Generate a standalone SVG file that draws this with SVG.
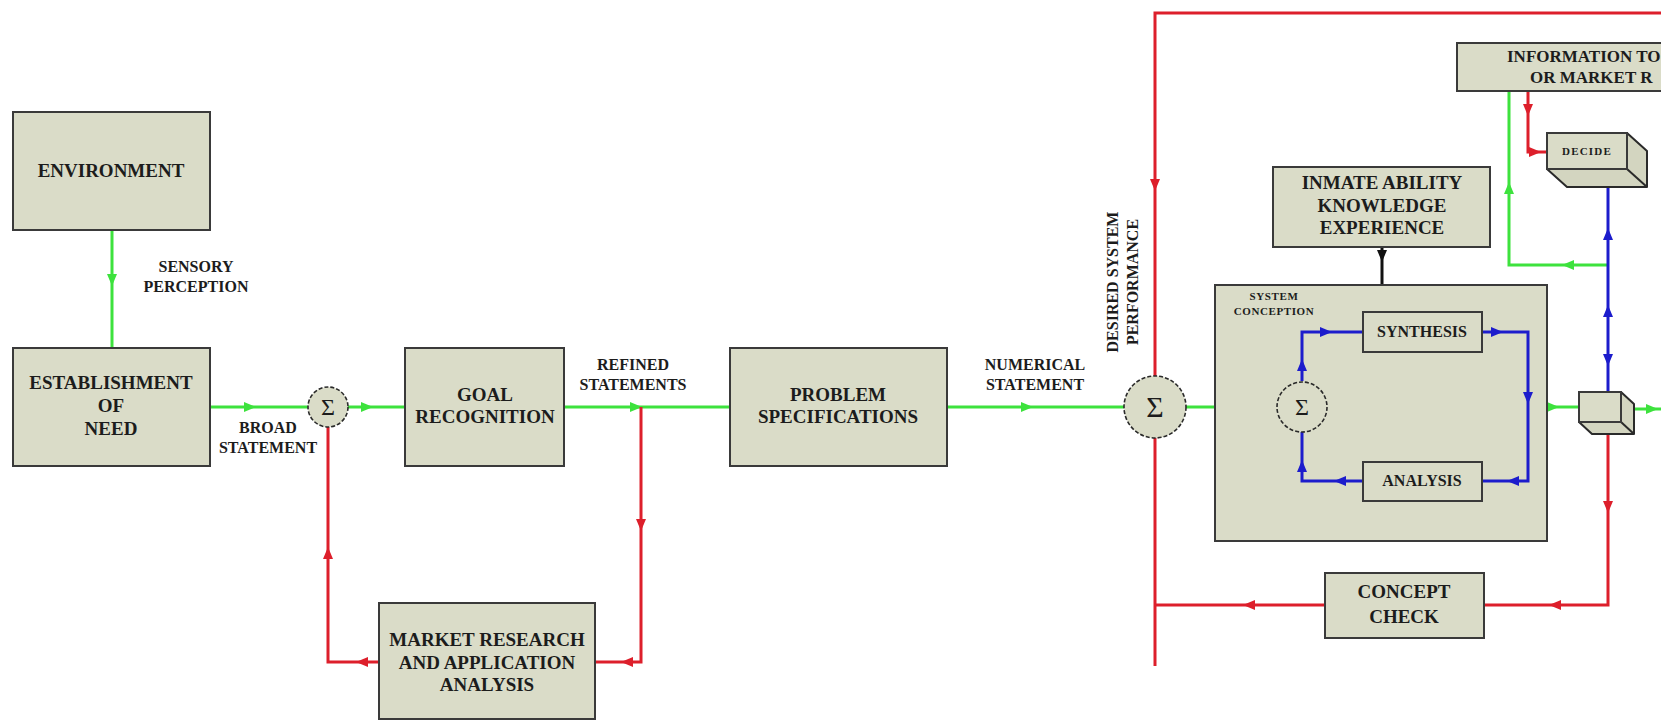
<svg xmlns="http://www.w3.org/2000/svg" xmlns:xlink="http://www.w3.org/1999/xlink" width="1661" height="721" viewBox="0 0 1661 721">
  <style>
    .box { fill: #dadcc8; stroke: #3a3a3a; stroke-width: 2; }
    .face { fill: #d3d5c0; stroke: #2a2a2a; stroke-width: 2; stroke-linejoin: round; }
    .sum { fill: #dadcc8; stroke: #2a2a2a; stroke-width: 1.6; stroke-dasharray: 4 2; }
    .t { font-family: "Liberation Serif", "Times New Roman", serif; font-weight: bold; fill: #1c1c1c; text-anchor: middle; }
    .big { font-size: 19px; }
    .lbl { font-size: 16px; }
    .mid { font-size: 16px; }
    .sm { font-size: 11px; }
    .sig { font-family: "Liberation Serif", "DejaVu Serif", serif; fill: #1c1c1c; text-anchor: middle; }
    .g { stroke: #3de23d; stroke-width: 3; fill: none; }
    .r { stroke: #dd1f2b; stroke-width: 3; fill: none; }
    .b { stroke: #1c1ccc; stroke-width: 3; fill: none; }
    .k { stroke: #111111; stroke-width: 3; fill: none; }
    .ga { fill: #3de23d; }
    .ra { fill: #dd1f2b; }
    .ba { fill: #1c1ccc; }
    .ka { fill: #111111; }
  </style>
  <defs>
    <!-- arrowhead pointing along +x, placed on a line with translate/rotate -->
    <path id="ah" d="M6,0 L-6,-5 L-6,5 Z"/>
  </defs>

  <rect width="1661" height="721" fill="#ffffff"/>

  <!-- connectors -->
  <g id="connectors">
    <!-- green forward path -->
    <line class="g" x1="112" y1="230" x2="112" y2="348"/>
    <line class="g" x1="210" y1="407" x2="308" y2="407"/>
    <line class="g" x1="348" y1="407" x2="405" y2="407"/>
    <line class="g" x1="564" y1="407" x2="730" y2="407"/>
    <line class="g" x1="947" y1="407" x2="1124" y2="407"/>
    <line class="g" x1="1186" y1="407" x2="1277" y2="407"/>
    <line class="g" x1="1547" y1="407" x2="1579" y2="407"/>
    <line class="g" x1="1634" y1="409" x2="1661" y2="409"/>
    <polyline class="g" points="1608,265 1509,265 1509,91"/>
    <use href="#ah" class="ga" transform="translate(112,280) rotate(90)"/>
    <use href="#ah" class="ga" transform="translate(250,407)"/>
    <use href="#ah" class="ga" transform="translate(367,407)"/>
    <use href="#ah" class="ga" transform="translate(636,407)"/>
    <use href="#ah" class="ga" transform="translate(1027,407)"/>
    <use href="#ah" class="ga" transform="translate(1220,407)"/>
    <use href="#ah" class="ga" transform="translate(1553,407)"/>
    <use href="#ah" class="ga" transform="translate(1652,409)"/>
    <use href="#ah" class="ga" transform="translate(1568,265) rotate(180)"/>
    <use href="#ah" class="ga" transform="translate(1509,188) rotate(-90)"/>

    <!-- red market research loop -->
    <polyline class="r" points="641,407 641,662 595,662"/>
    <polyline class="r" points="379,662 328,662 328,427"/>
    <use href="#ah" class="ra" transform="translate(641,525) rotate(90)"/>
    <use href="#ah" class="ra" transform="translate(627,662) rotate(180)"/>
    <use href="#ah" class="ra" transform="translate(362,662) rotate(180)"/>
    <use href="#ah" class="ra" transform="translate(328,553) rotate(-90)"/>

    <!-- red outer feedback loop -->
    <polyline class="r" points="1661,13 1155,13 1155,376"/>
    <line class="r" x1="1155" y1="438" x2="1155" y2="666"/>
    <polyline class="r" points="1608,434 1608,605 1484,605"/>
    <line class="r" x1="1325" y1="605" x2="1155" y2="605"/>
    <polyline class="r" points="1528,91 1528,152 1547,152"/>
    <use href="#ah" class="ra" transform="translate(1155,185) rotate(90)"/>
    <use href="#ah" class="ra" transform="translate(1608,507) rotate(90)"/>
    <use href="#ah" class="ra" transform="translate(1555,605) rotate(180)"/>
    <use href="#ah" class="ra" transform="translate(1249,605) rotate(180)"/>
    <use href="#ah" class="ra" transform="translate(1528,110) rotate(90)"/>
    <use href="#ah" class="ra" transform="translate(1535,152)"/>

    <!-- blue decision line -->
    <line class="b" x1="1608" y1="188" x2="1608" y2="393"/>
    <use href="#ah" class="ba" transform="translate(1608,234) rotate(-90)"/>
    <use href="#ah" class="ba" transform="translate(1608,311) rotate(-90)"/>
    <use href="#ah" class="ba" transform="translate(1608,360) rotate(90)"/>

    <!-- knowledge input -->
    <line class="k" x1="1382" y1="247" x2="1382" y2="285"/>
    <use href="#ah" class="ka" transform="translate(1382,256) rotate(90)"/>
  </g>

  <!-- outer nodes -->
  <g id="environment">
    <rect class="box" x="13" y="112" width="197" height="118"/>
    <text class="t big" x="111" y="177">ENVIRONMENT</text>
  </g>
  <g id="establishment">
    <rect class="box" x="13" y="348" width="197" height="118"/>
    <text class="t big" x="111" y="389">ESTABLISHMENT</text>
    <text class="t big" x="111" y="412">OF</text>
    <text class="t big" x="111" y="435">NEED</text>
  </g>
  <g id="sum-1">
    <circle class="sum" cx="328" cy="407" r="20"/>
    <text class="sig" x="328" y="415" style="font-size:24px">Σ</text>
  </g>
  <g id="goal-recognition">
    <rect class="box" x="405" y="348" width="159" height="118"/>
    <text class="t big" x="485" y="401">GOAL</text>
    <text class="t big" x="485" y="423">RECOGNITION</text>
  </g>
  <g id="market-research">
    <rect class="box" x="379" y="603" width="216" height="116"/>
    <text class="t big" x="487" y="646">MARKET RESEARCH</text>
    <text class="t big" x="487" y="669">AND APPLICATION</text>
    <text class="t big" x="487" y="691">ANALYSIS</text>
  </g>
  <g id="problem-specifications">
    <rect class="box" x="730" y="348" width="217" height="118"/>
    <text class="t big" x="838" y="401">PROBLEM</text>
    <text class="t big" x="838" y="423">SPECIFICATIONS</text>
  </g>
  <g id="sum-2">
    <circle class="sum" cx="1155" cy="407" r="31"/>
    <text class="sig" x="1155" y="417" style="font-size:30px">Σ</text>
  </g>

  <!-- connector labels -->
  <g id="labels">
    <text class="t lbl" x="196" y="272">SENSORY</text>
    <text class="t lbl" x="196" y="292">PERCEPTION</text>
    <text class="t lbl" x="268" y="433">BROAD</text>
    <text class="t lbl" x="268" y="453">STATEMENT</text>
    <text class="t lbl" x="633" y="370">REFINED</text>
    <text class="t lbl" x="633" y="390">STATEMENTS</text>
    <text class="t lbl" x="1035" y="370">NUMERICAL</text>
    <text class="t lbl" x="1035" y="390">STATEMENT</text>
    <text class="t lbl" transform="translate(1118,282) rotate(-90)">DESIRED SYSTEM</text>
    <text class="t lbl" transform="translate(1138,282) rotate(-90)">PERFORMANCE</text>
  </g>

  <!-- design block -->
  <g id="inmate-ability">
    <rect class="box" x="1273" y="167" width="217" height="80"/>
    <text class="t big" x="1382" y="189">INMATE ABILITY</text>
    <text class="t big" x="1382" y="212">KNOWLEDGE</text>
    <text class="t big" x="1382" y="234">EXPERIENCE</text>
  </g>
  <g id="system-conception">
    <rect class="box" x="1215" y="285" width="332" height="256"/>
    <text class="t sm" x="1274" y="300" style="letter-spacing:0.6px">SYSTEM</text>
    <text class="t sm" x="1274" y="315" style="letter-spacing:0.6px">CONCEPTION</text>
  </g>
  <g id="design-loop">
    <polyline class="b" points="1302,381 1302,332 1363,332"/>
    <polyline class="b" points="1482,332 1528,332 1528,481 1482,481"/>
    <polyline class="b" points="1363,481 1302,481 1302,432"/>
    <use href="#ah" class="ba" transform="translate(1302,365) rotate(-90)"/>
    <use href="#ah" class="ba" transform="translate(1326,332)"/>
    <use href="#ah" class="ba" transform="translate(1497,332)"/>
    <use href="#ah" class="ba" transform="translate(1528,398) rotate(90)"/>
    <use href="#ah" class="ba" transform="translate(1513,481) rotate(180)"/>
    <use href="#ah" class="ba" transform="translate(1340,481) rotate(180)"/>
    <use href="#ah" class="ba" transform="translate(1302,466) rotate(-90)"/>
  </g>
  <g id="sum-3">
    <circle class="sum" cx="1302" cy="407" r="25"/>
    <text class="sig" x="1302" y="415" style="font-size:24px">Σ</text>
  </g>
  <g id="synthesis">
    <rect class="box" x="1363" y="312" width="119" height="40"/>
    <text class="t mid" x="1422" y="337">SYNTHESIS</text>
  </g>
  <g id="analysis">
    <rect class="box" x="1363" y="462" width="119" height="39"/>
    <text class="t mid" x="1422" y="486">ANALYSIS</text>
  </g>

  <g id="information">
    <rect class="box" x="1457" y="43" width="230" height="48"/>
    <text class="t" x="1507" y="62" style="font-size:17px;text-anchor:start">INFORMATION TO</text>
    <text class="t" x="1530" y="83" style="font-size:17px;text-anchor:start">OR MARKET R</text>
  </g>
  <g id="decide">
    <path class="face" d="M1627,133 L1647,151 L1647,187 L1567,187 L1547,169 L1627,169 Z"/>
    <line x1="1627" y1="169" x2="1647" y2="187" stroke="#2a2a2a" stroke-width="2"/>
    <rect class="box" x="1547" y="133" width="80" height="36" stroke="#2a2a2a"/>
    <text class="t" x="1587" y="155" style="font-size:11px;letter-spacing:1.2px">DECIDE</text>
  </g>
  <g id="junction">
    <path class="face" d="M1621,392 L1634,404 L1634,434 L1592,434 L1579,422 L1621,422 Z"/>
    <line x1="1621" y1="422" x2="1634" y2="434" stroke="#2a2a2a" stroke-width="2"/>
    <rect class="box" x="1579" y="392" width="42" height="30" stroke="#2a2a2a"/>
  </g>
  <g id="concept-check">
    <rect class="box" x="1325" y="573" width="159" height="65"/>
    <text class="t big" x="1404" y="598">CONCEPT</text>
    <text class="t big" x="1404" y="623">CHECK</text>
  </g>
</svg>
